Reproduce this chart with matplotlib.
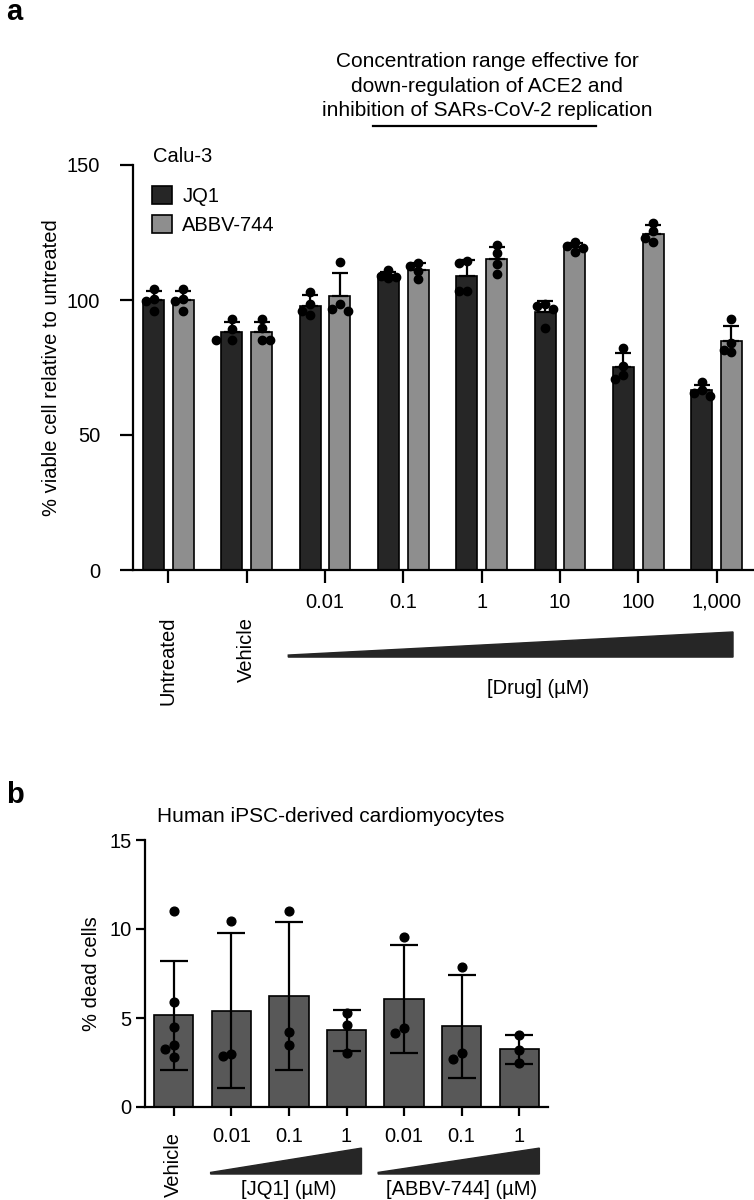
import numpy as np
import matplotlib
matplotlib.use("Agg")
import matplotlib.pyplot as plt
from matplotlib.patches import Polygon, Patch
from matplotlib.transforms import blended_transform_factory

plt.rcParams["font.family"] = ["Liberation Sans", "DejaVu Sans"]

W, H = 754, 1200

# panel a: Calu-3 viability, 4 replicates per bar
groups_a = ["Untreated", "Vehicle", "0.01", "0.1", "1", "10", "100", "1,000"]
jq1_pts = [
    [104.0, 100.4, 99.8, 95.9],
    [93.1, 89.2, 85.2, 85.2],
    [103.0, 98.5, 96.0, 94.3],
    [111.0, 109.0, 108.5, 108.0],
    [114.5, 113.7, 103.4, 103.4],
    [98.5, 97.6, 96.7, 89.7],
    [82.2, 75.5, 72.1, 70.7],
    [69.5, 66.5, 65.5, 64.5],
]
abbv_pts = [
    [104.0, 100.4, 99.8, 96.0],
    [93.0, 89.5, 85.3, 85.3],
    [114.0, 98.5, 96.7, 96.1],
    [113.7, 112.7, 110.7, 107.6],
    [120.3, 117.3, 113.3, 109.7],
    [121.3, 120.1, 119.1, 117.9],
    [128.6, 125.4, 123.0, 121.3],
    [93.1, 84.0, 81.6, 80.6],
]

# panel b: iPSC cardiomyocytes
groups_b = ["Vehicle", "0.01", "0.1", "1", "0.01", "0.1", "1"]
dead_pts = [
    [11.0, 5.9, 4.5, 3.5, 3.25, 2.8],
    [10.45, 2.85, 2.95],
    [11.0, 3.5, 4.2],
    [5.3, 4.6, 3.05],
    [9.55, 4.15, 4.45],
    [7.85, 2.7, 3.05],
    [4.05, 3.2, 2.45],
]

C_JQ1, C_ABBV, C_B = "#262626", "#8e8e8e", "#585858"
FS = 14.5
MS = 6.0


def fx(px):
    return px / W


def fy(py):
    return 1 - py / H


def swarm_x(ax, xc, ys, diam):
    # spread overlapping dots sideways (prism-like scatter)
    tr = ax.transData
    x0, _ = tr.transform((xc, 0))
    placed, xs = [], np.empty(len(ys))
    for i in np.argsort(ys)[::-1]:
        _, yp = tr.transform((xc, ys[i]))
        for k in [0, -1, 1, -2, 2, -3, 3]:
            xp = x0 + k * diam
            if all(np.hypot(xp - a, yp - b) >= diam for a, b in placed):
                break
        placed.append((xp, yp))
        xs[i] = tr.inverted().transform((xp, yp))[0]
    return xs


def style_axis(ax, ticklen, pad_y, pad_x):
    for s in ["top", "right"]:
        ax.spines[s].set_visible(False)
    for s in ["left", "bottom"]:
        ax.spines[s].set_linewidth(1.6)
    ax.tick_params(axis="y", length=ticklen, width=1.6, labelsize=FS, pad=pad_y)
    ax.tick_params(axis="x", length=ticklen, width=1.6, labelsize=FS, pad=pad_x)


fig = plt.figure(figsize=(W / 100, H / 100), dpi=100)

# ---------------- panel a ----------------
ax = fig.add_axes([fx(133), fy(570), fx(754 - 133), (570 - 165) / H])
ax.set_xlim(-0.453, 7.478)
ax.set_ylim(0, 150)
style_axis(ax, 9.5, 14, 7)
ax.set_yticks([0, 50, 100, 150])

xa = np.arange(len(groups_a))
off, bw = 0.19, 0.268
diam_px = MS * 100 / 72
for pts_list, sign, col in [(jq1_pts, -1, C_JQ1), (abbv_pts, 1, C_ABBV)]:
    means = np.array([np.mean(p) for p in pts_list])
    sds = np.array([np.std(p, ddof=1) for p in pts_list])
    xs = xa + sign * off
    ax.bar(xs, means, width=bw, color=col, edgecolor="black", linewidth=1.2, zorder=2)
    ax.errorbar(xs, means, yerr=[np.zeros_like(sds), sds], fmt="none", ecolor="black",
                elinewidth=1.6, capsize=6, capthick=1.6, zorder=3)
    for x, p in zip(xs, pts_list):
        ax.plot(swarm_x(ax, x, np.array(p), diam_px * 0.95), p, "o", color="black",
                ms=MS, zorder=4, clip_on=False)

ax.set_xticks(xa)
ax.set_xticklabels(["", ""] + groups_a[2:])
ax.set_ylabel("% viable cell relative to untreated", fontsize=FS, labelpad=4)

bt = blended_transform_factory(ax.transData, ax.transAxes)
for i in range(2):
    ax.text(xa[i], -0.115, groups_a[i], rotation=90, ha="center", va="top",
            fontsize=FS, transform=bt)
ax.add_patch(Polygon([[1.53, -0.215], [7.21, -0.215], [7.21, -0.153], [1.53, -0.21]],
                     closed=True, color="#262626", transform=bt, clip_on=False))
ax.text(4.72, -0.292, "[Drug] (µM)", ha="center", va="center", fontsize=FS, transform=bt)

# header with underline
bf = blended_transform_factory(ax.transData, fig.transFigure)
fig.text(4.07, fy(86), "Concentration range effective for\ndown-regulation of ACE2 and\n"
         "inhibition of SARs-CoV-2 replication", ha="center", va="center",
         fontsize=15, linespacing=1.35, transform=bf)
ax.plot([2.61, 5.46], [fy(126), fy(126)], color="black", lw=1.6, transform=bf, clip_on=False)

fig.text(fx(153), fy(157), "Calu-3", ha="left", va="center", fontsize=FS)
handles = [Patch(facecolor=C_JQ1, edgecolor="black", linewidth=1.2, label="JQ1"),
           Patch(facecolor=C_ABBV, edgecolor="black", linewidth=1.2, label="ABBV-744")]
fig.legend(handles=handles, loc="upper left", bbox_to_anchor=(fx(152), fy(186)),
           frameon=False, fontsize=FS, handlelength=1.0, handleheight=1.0,
           handletextpad=0.5, labelspacing=0.45, borderpad=0, borderaxespad=0)

fig.text(fx(6), fy(12), "a", fontsize=21, fontweight="bold", ha="left", va="center")

# ---------------- panel b ----------------
bx = fig.add_axes([fx(145), fy(1107), fx(548 - 145), (1107 - 840) / H])
bx.set_xlim(-0.5, 6.5)
bx.set_ylim(0, 15)
style_axis(bx, 6.5, 3, 8)
bx.set_yticks([0, 5, 10, 15])

xb = np.arange(len(groups_b))
means_b = np.array([np.mean(p) for p in dead_pts])
sds_b = np.array([np.std(p, ddof=1) for p in dead_pts])
bx.bar(xb, means_b, width=0.68, color=C_B, edgecolor="black", linewidth=1.2, zorder=2)
bx.errorbar(xb, means_b, yerr=sds_b, fmt="none", ecolor="black", elinewidth=1.6,
            capsize=10, capthick=1.6, zorder=3)
for x, p in zip(xb, dead_pts):
    bx.plot(swarm_x(bx, x, np.array(p), diam_px * 1.05), p, "o", color="black",
            ms=MS + 0.3, zorder=4, clip_on=False)

bx.set_xticks(xb)
bx.set_xticklabels([""] + groups_b[1:])
bx.set_ylabel("% dead cells", fontsize=FS, labelpad=6)
bt2 = blended_transform_factory(bx.transData, bx.transAxes)
bx.text(0, -0.095, groups_b[0], rotation=90, ha="center", va="top", fontsize=FS, transform=bt2)
for x0, x1, lab in [(0.64, 3.26, "[JQ1] (µM)"), (3.55, 6.35, "[ABBV-744] (µM)")]:
    bx.add_patch(Polygon([[x0, -0.251], [x1, -0.251], [x1, -0.154], [x0, -0.245]],
                         closed=True, color="#262626", transform=bt2, clip_on=False))
    bx.text((x0 + x1) / 2 + 0.05, -0.31, lab, ha="center", va="center", fontsize=FS,
            transform=bt2)

fig.text(fx(331), fy(817), "Human iPSC-derived cardiomyocytes", ha="center", va="center",
         fontsize=15)
fig.text(fx(6), fy(795), "b", fontsize=21, fontweight="bold", ha="left", va="center")

fig.savefig("out.png", dpi=100)
